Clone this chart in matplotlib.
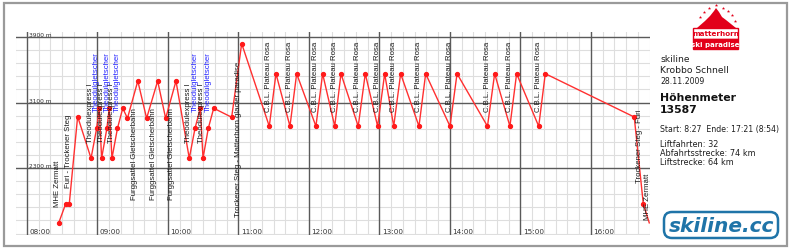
import matplotlib
matplotlib.use("Agg")
import matplotlib.pyplot as plt
from matplotlib.patches import FancyBboxPatch, Rectangle, Polygon
from matplotlib.transforms import offset_copy, blended_transform_factory

# ---------------- data ----------------
point_times = ["08:27.0", "08:33.0", "08:36.0", "08:43.1", "08:54.5", "08:59.3", "09:01.5", "09:03.5",
               "09:08.0", "09:10.0", "09:12.3", "09:17.0", "09:21.5", "09:25.5", "09:34.3", "09:41.8",
               "09:51.2", "09:58.0", "10:06.8", "10:18.1", "10:23.0", "10:27.5", "10:29.8", "10:34.3",
               "10:38.9", "10:54.2", "11:02.7", "11:26.2", "11:31.9", "11:43.8", "11:49.5", "12:05.9",
               "12:11.6", "12:21.9", "12:27.2", "12:41.9", "12:47.9", "12:58.4", "13:04.4", "13:12.1",
               "13:18.0", "13:33.6", "13:39.3", "14:00.0", "14:06.0", "14:31.9", "14:38.0", "14:51.0",
               "14:56.7", "15:15.5", "15:21.1", "16:36.8", "16:44.5", "16:49.6"]
point_alts = [1630, 1865, 1865, 2929, 2419, 2785, 3033, 2419,
              2785, 3033, 2419, 2785, 3030, 2907, 3363, 2907,
              3363, 2907, 3363, 2419, 2785, 3033, 2419, 2785,
              3030, 2920, 3820, 2810, 3452, 2810, 3452, 2810,
              3452, 2810, 3452, 2810, 3452, 2810, 3452, 2810,
              3452, 2810, 3452, 2810, 3452, 2810, 3452, 2810,
              3452, 2810, 3452, 2923, 1865, 1630]

lift_names = ["MHE Zermatt", "Furi - Trockener Steg",
              "Theodulexpress I", "Theodulgletscher", "Theodulexpress I", "Theodulgletscher",
              "Theodulexpress I", "Theodulgletscher",
              "Furggsattel Gletscherbahn", "Furggsattel Gletscherbahn", "Furggsattel Gletscherbahn",
              "Theodulexpress I", "Theodulgletscher", "Theodulexpress I", "Theodulgletscher",
              "Trockener Steg - Matterhorn glacier paradise"] + ["C.B.L. Plateau Rosa"] * 12 + \
             ["Trockener Steg - Furi", "MHE Zermatt"]
label_times = ["08:26.0", "08:35.7", "08:54.0", "08:59.3", "09:03.0", "09:08.1", "09:11.9", "09:16.9",
               "09:31.1", "09:47.5", "10:03.2", "10:17.4", "10:23.0", "10:28.7", "10:34.3", "10:59.8",
               "11:25.8", "11:43.4", "12:05.5", "12:21.5", "12:41.5", "12:58.1", "13:11.7", "13:33.2",
               "13:59.6", "14:31.5", "14:50.7", "15:15.1", "16:41.1", "16:48.5"]
label_bases = [1836, 2068, 2618, 2996, 2618, 2996, 2618, 2996,
               1922, 1922, 1922, 2618, 2996, 2618, 2996, 1714] + [2996] * 12 + [2130, 1678]

hour_labels = ["08:00", "09:00", "10:00", "11:00", "12:00", "13:00", "14:00", "15:00", "16:00"]
alt_major = [2300, 3100, 3900]
alt_minor_step = 160

info_lines = ["skiline", "Krobbo Schnell", "28.11.2009"]
title_lines = ["Höhenmeter", "13587"]
stats_line = "Start: 8:27  Ende: 17:21 (8:54)"
stats_lines = ["Liftfahrten: 32", "Abfahrtsstrecke: 74 km", "Liftstrecke: 64 km"]


def to_h(s):
    hh, mm = s.split(":")
    return int(hh) + float(mm) / 60.0


W, H = 791, 251
fig = plt.figure(figsize=(W / 100, H / 100), dpi=100)
fig.patch.set_facecolor("white")

# main axes (pixel box: x 16..650, y 33..236)
ax = fig.add_axes([16 / W, 15 / H, 634 / W, 203 / H])
ax.set_xlim(7.844, 16.837)
ax.set_ylim(1482, 3961)
ax.axis("off")

GRID_MINOR = "#dedede"
GRID_MAJOR = "#5a5a5a"

# minor grid
m = 7 * 60 + 50
while m <= 16 * 60 + 50:
    if m % 60 != 0:
        ax.axvline(m / 60.0, color=GRID_MINOR, lw=0.8, zorder=1)
    m += 10
a = 3900 - alt_minor_step * 20
while a <= 3900:
    if a not in alt_major and a > 1482:
        ax.axhline(a, color=GRID_MINOR, lw=0.8, zorder=1)
    a += alt_minor_step
for hl in hour_labels:
    ax.axvline(to_h(hl), color=GRID_MAJOR, lw=1.0, zorder=2)
for av in alt_major:
    ax.axhline(av, color=GRID_MAJOR, lw=1.0, zorder=2)

# tick labels
trx = blended_transform_factory(ax.transData, ax.transAxes)
for hl in hour_labels:
    ax.text(to_h(hl), 0.02, hl, transform=offset_copy(trx, fig=fig, x=2.5, y=0, units="dots"),
            ha="left", va="center", fontsize=5.2, color="#333333", family="DejaVu Sans", zorder=5)
for av in alt_major:
    ax.text(to_h("08:00"), av, f"{av} m", transform=offset_copy(ax.transData, fig=fig, x=2.5, y=0, units="dots"),
            ha="left", va="bottom", fontsize=4.2, color="#333333", family="DejaVu Sans", zorder=5)

# profile line
xs = [to_h(t) for t in point_times]
ax.plot(xs, point_alts, color="#ff3030", lw=1.0, zorder=4, solid_joinstyle="miter")
ax.plot(xs[:-1], point_alts[:-1], ls="none", marker="o", ms=2.8, color="#ff1a1a", zorder=5)

# lift labels
for name, lt, lb in zip(lift_names, label_times, label_bases):
    col = "#2020ff" if name == "Theodulgletscher" else "#1a1a1a"
    ax.text(to_h(lt), lb, name, rotation=90, ha="center", va="bottom", fontsize=5.6,
            color=col, family="Liberation Sans", zorder=6, clip_on=True)

# ---------------- overlay (frame + side panel) ----------------
ov = fig.add_axes([0, 0, 1, 1], zorder=10)
ov.set_xlim(0, W)
ov.set_ylim(H, 0)
ov.axis("off")
ov.patch.set_alpha(0)

ov.add_patch(Rectangle((4, 4), 783, 243, fill=False, ec="#9a9a9a", lw=1.6))

# matterhorn logo
RED = "#e2001a"
mountain = [(697, 29), (705, 22), (710, 17), (714, 12), (716, 9), (719, 13), (722, 18),
            (726, 21), (731, 25), (736, 29)]
ov.add_patch(Polygon(mountain, closed=True, fc=RED, ec="none"))
for sx, sy in [(700, 18), (704, 13), (709, 9), (716, 6), (723, 9), (728, 12), (732, 16), (735, 22)]:
    ov.plot(sx, sy, marker="*", ms=2.5, color=RED, mec="none")
ov.add_patch(Rectangle((693, 29), 45, 10.5, fc="white", ec=RED, lw=1.0))
ov.add_patch(Rectangle((693, 39.5), 45, 10.5, fc=RED, ec=RED, lw=1.0))
ov.text(715.5, 34.5, "matterhorn", ha="center", va="center", fontsize=5.2, color=RED,
        family="DejaVu Sans", weight="bold")
ov.text(715.5, 45, "ski paradise", ha="center", va="center", fontsize=5.0, color="white",
        family="DejaVu Sans", weight="bold")

TXT = "#1e1e1e"
ov.text(660, 60, info_lines[0], ha="left", va="center", fontsize=6.6, color=TXT, family="DejaVu Sans")
ov.text(660, 70.5, info_lines[1], ha="left", va="center", fontsize=6.6, color=TXT, family="DejaVu Sans")
ov.text(660, 82, info_lines[2], ha="left", va="center", fontsize=5.6, color=TXT, family="DejaVu Sans")
ov.text(660, 98.5, title_lines[0], ha="left", va="center", fontsize=7.8, color="#111111",
        family="DejaVu Sans", weight="bold")
ov.text(660, 110.5, title_lines[1], ha="left", va="center", fontsize=7.8, color="#111111",
        family="DejaVu Sans", weight="bold")
ov.text(660, 129.5, stats_line, ha="left", va="center", fontsize=5.6, color=TXT, family="DejaVu Sans")
for i, s in enumerate(stats_lines):
    ov.text(660, 145 + 9 * i, s, ha="left", va="center", fontsize=5.9, color=TXT, family="DejaVu Sans")

# skiline.cc logo
BLUE = "#1f74a8"
ov.add_patch(FancyBboxPatch((664, 213), 114, 26, boxstyle="round,pad=0,rounding_size=8",
                            fill=False, ec=BLUE, lw=1.8))
ov.text(721, 226.5, "skiline.cc", ha="center", va="center", fontsize=14.5, color=BLUE,
        family="DejaVu Sans", weight="bold", style="italic")

fig.savefig("out.png", dpi=100, facecolor="white")
